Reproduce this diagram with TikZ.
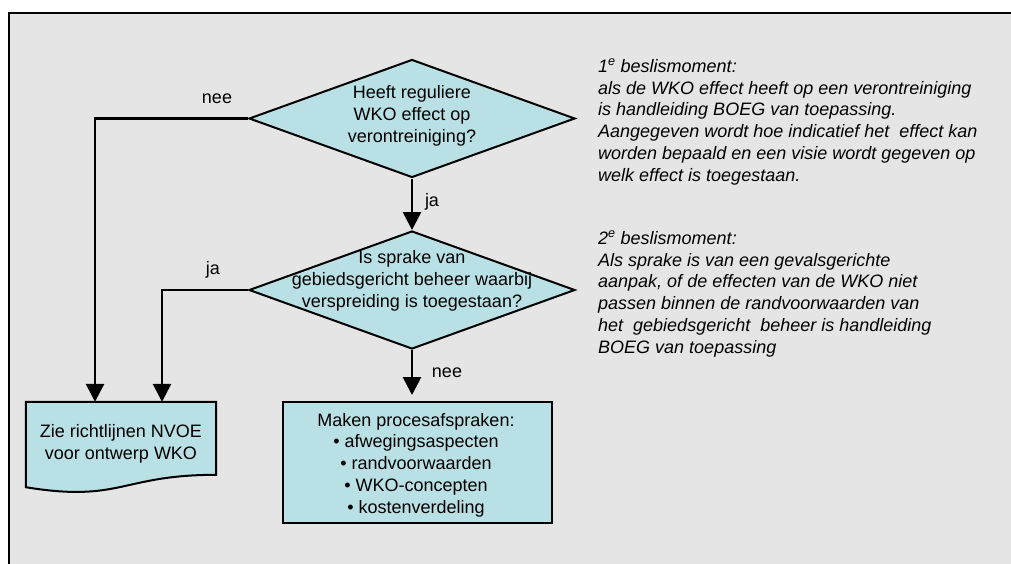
\documentclass[tikz,border=0pt]{standalone}
\usepackage{fontspec}
\setmainfont{Liberation Sans}
\usetikzlibrary{shapes.geometric,arrows.meta,calc}
\definecolor{bgc}{RGB}{229,229,229}
\definecolor{boxc}{RGB}{185,224,228}
\newcommand\fs{\fontsize{18}{21.8}\selectfont}
\tikzset{
  shp/.style={draw=black, line width=2pt, fill=boxc},
  dia/.style={shp, shape=diamond, minimum width=326pt, minimum height=118pt, inner sep=0pt},
  arr/.style={line width=2.8pt, -{Triangle[width=18pt,length=18pt]}},
  txt/.style={font=\fs, align=center, inner sep=0pt},
  note/.style={font=\fs\itshape, align=left, inner sep=0pt, anchor=north west},
}
\begin{document}
\begin{tikzpicture}[x=1pt,y=-1pt]
\useasboundingbox (0,0) rectangle (1011,563);
\fill[white] (0,0) rectangle (1011,563);
\fill[bgc] (9,13) rectangle (1015,567);
\draw[line width=2.5pt] (9,570) -- (9,13) -- (1015,13);

% decisions
\node[dia] (d1) at (412,118.5) {};
\node[txt] (d1t) at (412,116) {Heeft reguliere\\WKO effect op\\verontreiniging?};
\node[dia] (d2) at (412,290) {};
\node[txt] (d2t) at (412,281) {Is sprake van\\gebiedsgericht beheer waarbij\\verspreiding is toegestaan?};

% process box
\node[shp, minimum width=269pt, minimum height=121pt, inner sep=0pt] (box) at (417.5,462.5) {};
\node[txt] (boxt) at (416,465) {Maken procesafspraken:\\\textbullet{} afwegingsaspecten\\\textbullet{} randvoorwaarden\\\textbullet{} WKO-concepten\\\textbullet{} kostenverdeling};

% document shape
\node[txt, minimum width=190pt, minimum height=85pt] (doc) at (121,444.5) {};
\draw[shp] (doc.north west) -- (doc.north east) -- ($(doc.north east)+(0,73)$)
  .. controls ($(doc.north)+(0,73)$) and ($(doc.north)+(0,101)$) .. (doc.south west) -- cycle;
\node[txt] (doct) at (121,444) {Zie richtlijnen NVOE\\voor ontwerp WKO};

% connectors
\coordinate (k1) at (95,118.5);
\coordinate (k2) at (162,290);
\draw[arr] (d1.south) -- (d2.north);
\draw[arr] (d2.south) -- ($(box.north)+(-5.5,-6)$);
\draw[arr] (d1.west) -- (k1) -- (k1 |- doc.north);
\draw[arr] (d2.west) -- (k2) -- (k2 |- doc.north);

% labels
\node[txt] (l1) at (217,99) {nee};
\node[txt] (l2) at (432,202) {ja};
\node[txt] (l3) at (213,270) {ja};
\node[txt] (l4) at (447,373) {nee};

% notes
\node[note] (n1) at (598,59) {1\textsuperscript{e} beslismoment:\\als de WKO effect heeft op een verontreiniging\\is handleiding BOEG van toepassing.\\Aangegeven wordt hoe indicatief het\ \ effect kan\\worden bepaald en een visie wordt gegeven op\\welk effect is toegestaan.};
\node[note] (n2) at (598,231) {2\textsuperscript{e} beslismoment:\\Als sprake is van een gevalsgerichte\\aanpak, of de effecten van de WKO niet\\passen binnen de randvoorwaarden van\\het\ \ gebiedsgericht\ \ beheer is handleiding\\BOEG van toepassing};
\end{tikzpicture}
\end{document}
